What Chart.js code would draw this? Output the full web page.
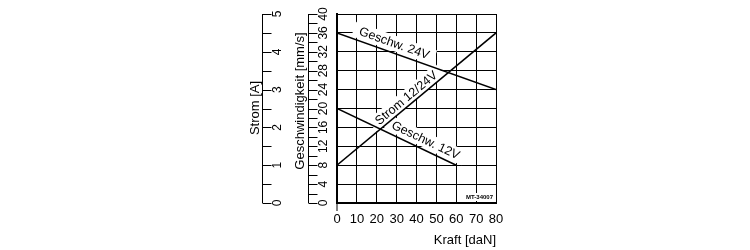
<!DOCTYPE html>
<html lang="de">
<head>
<meta charset="UTF-8">
<title>Kraft - Geschwindigkeit - Strom</title>
<script src="https://cdn.jsdelivr.net/npm/chart.js"></script>
<style>
    body{margin:0;background:#fff;}
    #wrap{width:750px;height:250px;}
</style>
</head>
<body>
<div id="wrap"><canvas id="myChart" width="750" height="250"></canvas></div>
<script>
// Daten
const kraftTicks = [0, 10, 20, 30, 40, 50, 60, 70, 80];
const speedTicks = [0, 4, 8, 12, 16, 20, 24, 28, 32, 36, 40];
const stromTicks = [0, 1, 2, 3, 4, 5];

const kraft24 = [0, 80];
const speed24 = [36, 24];
const kraft12 = [0, 60];
const speed12 = [20, 8];
const kraftStrom = [0, 80];
const strom = [1, 4.5];

const FONT = '"Liberation Sans Narrow", "Liberation Sans", sans-serif';

function pts(xs, ys){
    return xs.map((x, i) => ({x: x, y: ys[i]}));
}

// Beschriftung entlang der Linien (dataset index, t, Abstand, Text)
const lineLabels = [
    {ds: 0, t: 0.34, d: 9, text: 'Geschw. 24V'},
    {ds: 2, t: 0.465, d: 7, text: 'Strom 12/24V'},
    {ds: 1, t: 0.71, d: 9, text: 'Geschw. 12V'}
];

const sidePlugin = {
    id: 'side',
    beforeDatasetsDraw(chart){
        const ctx = chart.ctx;
        ctx.save();
        ctx.font = '12.5px ' + FONT;
        ctx.textAlign = 'center';
        ctx.textBaseline = 'middle';
        lineLabels.forEach(l => {
            const m = chart.getDatasetMeta(l.ds).data;
            const p0 = m[0], p1 = m[m.length - 1];
            const a = Math.atan2(p1.y - p0.y, p1.x - p0.x);
            const cx = p0.x + (p1.x - p0.x) * l.t + Math.sin(a) * l.d;
            const cy = p0.y + (p1.y - p0.y) * l.t - Math.cos(a) * l.d;
            const w = ctx.measureText(l.text).width;
            ctx.save();
            ctx.translate(cx, cy);
            ctx.rotate(a);
            ctx.fillStyle = '#fff';
            ctx.fillRect(-w / 2 - 6, -8, w + 12, 15);
            ctx.fillStyle = '#000';
            ctx.fillText(l.text, 0, 0);
            ctx.restore();
        });
        // Zeichnungsnummer
        ctx.font = 'bold 6px ' + FONT;
        ctx.textAlign = 'right';
        ctx.fillStyle = '#fff';
        const a = chart.chartArea;
        ctx.fillRect(a.right - 30, a.bottom - 10, 28, 8);
        ctx.fillStyle = '#000';
        ctx.fillText('MT-34007', a.right - 3, a.bottom - 6);
        ctx.restore();
    },
    afterDraw(chart){
        const ctx = chart.ctx;
        const ys = chart.scales.y;
        const ya = chart.scales.yA;
        const top = ys.getPixelForValue(40), bot = ys.getPixelForValue(0);
        ctx.save();
        ctx.strokeStyle = '#000';
        ctx.fillStyle = '#000';
        ctx.lineWidth = 1;

        // Stromachse
        const xa = 262.5;
        ctx.beginPath();
        ctx.moveTo(xa, top); ctx.lineTo(xa, bot);
        for(let v = 0; v <= 5; v += 0.5){
            const py = Math.round(ya.getPixelForValue(v)) + 0.5;
            ctx.moveTo(xa, py); ctx.lineTo(xa + 9, py);
        }
        // Geschwindigkeitsachse
        const xs = 308.5;
        ctx.moveTo(xs, top); ctx.lineTo(xs, bot);
        for(let v = 0; v <= 40; v += 2){
            const py = Math.round(ys.getPixelForValue(v)) + 0.5;
            ctx.moveTo(xs, py); ctx.lineTo(xs + 9, py);
        }
        // Verlaengerung linker Rahmen
        const x0 = chart.scales.x.getPixelForValue(0);
        ctx.moveTo(x0, bot); ctx.lineTo(x0, bot + 8);
        ctx.stroke();

        ctx.font = '12px ' + FONT;
        ctx.textAlign = 'center';
        ctx.textBaseline = 'middle';
        stromTicks.forEach(v => {
            ctx.save();
            ctx.translate(xa + 15, ya.getPixelForValue(v));
            ctx.rotate(-Math.PI / 2);
            ctx.fillText(String(v), 0, 0);
            ctx.restore();
        });
        speedTicks.forEach(v => {
            ctx.save();
            ctx.translate(xs + 15, ys.getPixelForValue(v));
            ctx.rotate(-Math.PI / 2);
            ctx.fillText(String(v), 0, 0);
            ctx.restore();
        });

        // Achsentitel
        ctx.font = '13px ' + FONT;
        ctx.save();
        ctx.translate(255, 108);
        ctx.rotate(-Math.PI / 2);
        ctx.fillText('Strom [A]', 0, 0);
        ctx.restore();
        ctx.save();
        ctx.translate(300, 101);
        ctx.rotate(-Math.PI / 2);
        ctx.fillText('Geschwindigkeit [mm/s]', 0, 0);
        ctx.restore();
        ctx.restore();
    }
};

const ctx = document.getElementById('myChart');
new Chart(ctx, {
    type: 'line',
    data: {
        datasets: [{
            label: 'Geschw. 24V',
            data: pts(kraft24, speed24),
            yAxisID: 'y'
        }, {
            label: 'Geschw. 12V',
            data: pts(kraft12, speed12),
            yAxisID: 'y'
        }, {
            label: 'Strom 12/24V',
            data: pts(kraftStrom, strom),
            yAxisID: 'yA'
        }]
    },
    options: {
        responsive: false,
        animation: false,
        devicePixelRatio: 1,
        layout: {padding: {left: 337, right: 254, top: 14, bottom: 0}},
        elements: {
            line: {borderColor: '#000', borderWidth: 1.5, tension: 0},
            point: {radius: 0}
        },
        plugins: {
            legend: {display: false},
            tooltip: {enabled: false}
        },
        scales: {
            x: {
                type: 'linear',
                min: 0, max: 80,
                afterFit: s => { s.height = 47; },
                afterBuildTicks: s => { s.ticks = kraftTicks.map(v => ({value: v})); },
                grid: {color: '#000', lineWidth: 1, drawTicks: false},
                border: {color: '#000', width: 2},
                ticks: {
                    color: '#000', padding: 9, autoSkip: false,
                    minRotation: 0, maxRotation: 0,
                    font: {family: FONT, size: 13}
                },
                title: {
                    display: true, text: 'Kraft [daN]', align: 'end',
                    color: '#000', font: {family: FONT, size: 13},
                    padding: {top: 0, bottom: 2}
                }
            },
            y: {
                type: 'linear',
                position: 'left',
                min: 0, max: 40,
                afterFit: s => { s.width = 0; },
                afterBuildTicks: s => { s.ticks = speedTicks.map(v => ({value: v})); },
                grid: {color: '#000', lineWidth: 1, drawTicks: false},
                border: {color: '#000', width: 2},
                ticks: {display: false}
            },
            yA: {
                type: 'linear',
                position: 'left',
                min: 0, max: 5,
                display: false
            }
        }
    },
    plugins: [sidePlugin]
});
</script>
</body>
</html>
